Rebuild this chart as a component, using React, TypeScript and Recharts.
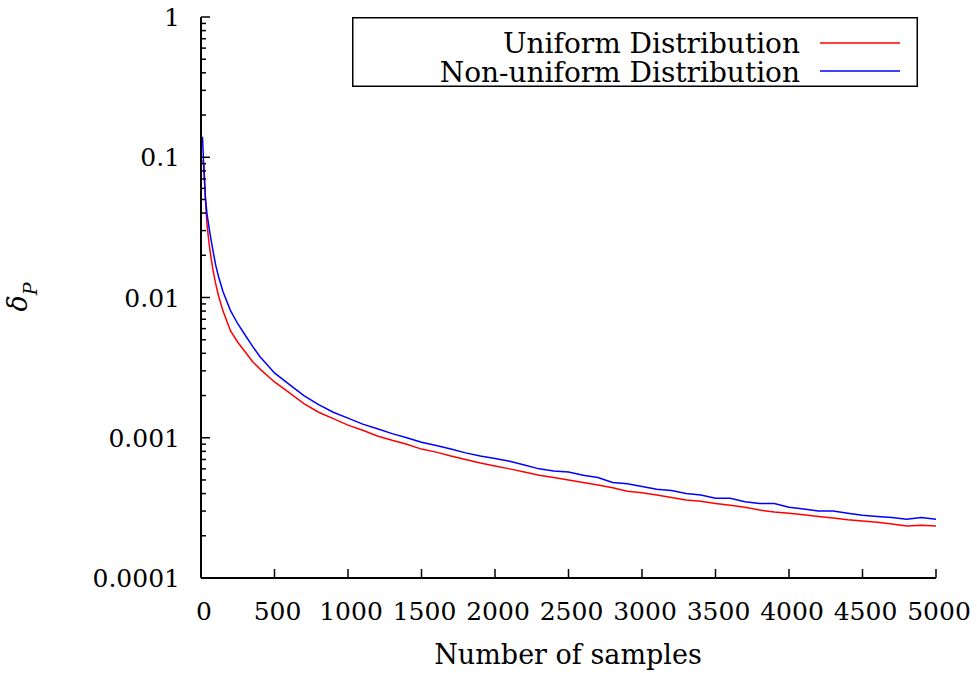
import { LineChart, Line, XAxis, YAxis, Legend } from 'recharts';

const samples = [
  10, 20, 30, 40, 50, 60, 80, 100, 120, 150, 200, 250, 300, 350, 400, 500, 600, 700, 800, 900,
  1000, 1100, 1200, 1300, 1400, 1500, 1600, 1700, 1800, 1900, 2000, 2100, 2200, 2300, 2400,
  2500, 2600, 2700, 2800, 2900, 3000, 3100, 3200, 3300, 3400, 3500, 3600, 3700, 3800, 3900,
  4000, 4100, 4200, 4300, 4400, 4500, 4600, 4700, 4800, 4900, 5000,
];

const uniform = [
  0.095, 0.088, 0.05, 0.034, 0.027, 0.022, 0.016, 0.0125, 0.0102, 0.008, 0.0058, 0.0048, 0.0041,
  0.0035, 0.0031, 0.0025, 0.0021, 0.00175, 0.00152, 0.00137, 0.00123, 0.00113, 0.00103, 0.00096,
  0.0009, 0.00083, 0.00079, 0.00074, 0.0007, 0.00066, 0.00063, 0.0006, 0.00057, 0.00054, 0.00052,
  0.0005, 0.00048, 0.00046, 0.00044, 0.000415, 0.000405, 0.00039, 0.000375, 0.00036, 0.000352,
  0.00034, 0.00033, 0.00032, 0.000305, 0.000295, 0.00029, 0.000283, 0.000275, 0.000268, 0.00026,
  0.000255, 0.00025, 0.000243, 0.000235, 0.000238, 0.000235,
];

const nonUniform = [
  0.14, 0.08, 0.052, 0.04, 0.034, 0.029, 0.022, 0.017, 0.014, 0.011, 0.0081, 0.0065, 0.0054,
  0.0045, 0.0038, 0.0029, 0.0024, 0.002, 0.00172, 0.00152, 0.00138, 0.00125, 0.00116, 0.00107,
  0.001, 0.00093, 0.00088, 0.00083, 0.00078, 0.00074, 0.00071, 0.00068, 0.00064, 0.0006, 0.00058,
  0.00057, 0.00054, 0.00052, 0.00048, 0.00047, 0.00045, 0.00043, 0.00042, 0.0004, 0.00039, 0.00037,
  0.00037, 0.00035, 0.00034, 0.00034, 0.00032, 0.00031, 0.0003, 0.0003, 0.00029, 0.00028, 0.000275,
  0.00027, 0.000262, 0.00027, 0.000262,
];

const seriesNames = ['Uniform Distribution', 'Non-uniform Distribution'];

const xTicks = [0, 500, 1000, 1500, 2000, 2500, 3000, 3500, 4000, 4500, 5000];
const yMajor = [0.0001, 0.001, 0.01, 0.1, 1];
const yMajorLabels = ['0.0001', '0.001', '0.01', '0.1', '1'];
const minorFactors = [2, 3, 4, 5, 6, 7, 8, 9];

const data = samples.map((n, i) => ({ n, uniform: uniform[i], nonUniform: nonUniform[i] }));

const yTicks: number[] = [];
yMajor.forEach((m, i) => {
  yTicks.push(m);
  if (i < yMajor.length - 1) minorFactors.forEach((f) => yTicks.push(m * f));
});

const FONT = "'DejaVu Serif', serif";
const txt = { fontFamily: FONT, fontSize: 27, fill: '#000' };
const tickTxt = { ...txt, fontSize: 25 };
const legendTxt = { ...txt, fontSize: 28 };

const YTick = (props: any) => {
  const { x, y, payload } = props;
  const idx = yMajor.findIndex((m) => Math.abs(m - payload.value) / m < 1e-6);
  const major = idx >= 0;
  return (
    <g>
      <line x1={x} x2={x + (major ? 9 : 5)} y1={y} y2={y} stroke="#000" strokeWidth={1.5} />
      {major && (
        <text x={x - 21} y={y + 9} textAnchor="end" style={tickTxt}>
          {yMajorLabels[idx]}
        </text>
      )}
    </g>
  );
};

const XTick = (props: any) => {
  const { x, y, payload } = props;
  return (
    <g>
      <line x1={x} x2={x} y1={y} y2={y - 9} stroke="#000" strokeWidth={1.5} />
      <text x={x + 3} y={y + 42} textAnchor="middle" style={tickTxt}>
        {payload.value}
      </text>
    </g>
  );
};

// legend box drawn by hand so it keeps gnuplot's order and look
const LegendBox = (props: any) => {
  const items = [...(props.payload || [])].sort(
    (a: any, b: any) => seriesNames.indexOf(a.value) - seriesNames.indexOf(b.value)
  );
  return (
    <svg width={566} height={80} style={{ display: 'block', overflow: 'visible' }}>
      <rect x={0.75} y={0.75} width={564.5} height={68.5} fill="#fff" stroke="#000" strokeWidth={1.5} />
      {items.map((it: any, i: number) => (
        <g key={it.value}>
          <text x={448} y={36 + i * 29} textAnchor="end" style={legendTxt}>
            {it.value}
          </text>
          <line x1={468} x2={548} y1={26 + i * 28} y2={26 + i * 28} stroke={it.color} strokeWidth={1.5} />
        </g>
      ))}
    </svg>
  );
};

const App = () => {
  return (
    <div style={{ position: 'absolute', left: 0, top: 0, width: 977, height: 673, background: '#fff' }}>
      <LineChart width={977} height={673} data={data} margin={{ top: 17, right: 41, bottom: 0, left: 0 }}>
        <XAxis
          dataKey="n"
          type="number"
          domain={[0, 5000]}
          ticks={xTicks}
          interval={0}
          height={95}
          tickSize={0}
          tickMargin={0}
          tickLine={false}
          axisLine={{ stroke: '#000', strokeWidth: 2 }}
          tick={<XTick />}
          label={{
            content: () => (
              <text x={568} y={664} textAnchor="middle" style={txt}>
                Number of samples
              </text>
            ),
          }}
        />
        <YAxis
          scale="log"
          type="number"
          domain={[0.0001, 1]}
          allowDataOverflow
          ticks={yTicks}
          interval={0}
          width={201}
          tickSize={0}
          tickMargin={0}
          tickLine={false}
          axisLine={{ stroke: '#000', strokeWidth: 2 }}
          tick={<YTick />}
          label={{
            content: () => (
              <text
                x={27}
                y={297}
                transform="rotate(-90, 27, 297)"
                textAnchor="middle"
                style={{ ...txt, fontStyle: 'italic' }}
              >
                δ
                <tspan dy={10} style={{ fontSize: 19 }}>
                  P
                </tspan>
              </text>
            ),
          }}
        />
        <Legend
          layout="vertical"
          align="center"
          verticalAlign="middle"
          content={<LegendBox />}
          wrapperStyle={{ left: 352, top: 17, width: 566, height: 80 }}
        />
        <Line
          type="linear"
          dataKey="uniform"
          name={seriesNames[0]}
          stroke="#ff0000"
          strokeWidth={1.5}
          dot={false}
          isAnimationActive={false}
        />
        <Line
          type="linear"
          dataKey="nonUniform"
          name={seriesNames[1]}
          stroke="#0000ff"
          strokeWidth={1.5}
          dot={false}
          isAnimationActive={false}
        />
      </LineChart>
    </div>
  );
};

export default App;
